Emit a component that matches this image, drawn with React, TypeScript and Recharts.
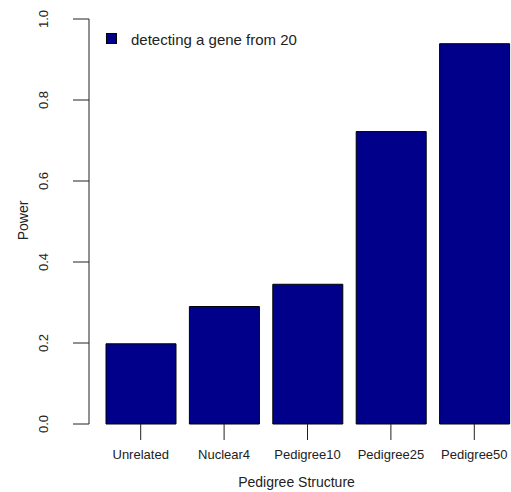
import React from 'react';
import { BarChart, Bar, XAxis, YAxis, Legend, Label } from 'recharts';

const categories = ['Unrelated', 'Nuclear4', 'Pedigree10', 'Pedigree25', 'Pedigree50'];
const power = [0.198, 0.29, 0.345, 0.722, 0.939];
const yTicks = [0, 0.2, 0.4, 0.6, 0.8, 1.0];
const seriesName = 'detecting a gene from 20';

const data = categories.map((c, i) => ({ name: c, power: power[i] }));

const FONT = '"Liberation Sans", Arial, sans-serif';
const FILL = '#00008B';
const INK = '#222';

const YTick = (props: any) => {
  const { x, y, payload } = props;
  return (
    <text
      x={x}
      y={y}
      transform={`rotate(-90, ${x}, ${y})`}
      textAnchor="middle"
      fontSize={13}
      fontFamily={FONT}
      fill={INK}
    >
      {Number(payload.value).toFixed(1)}
    </text>
  );
};

const LegendContent = () => (
  <div style={{ position: 'relative', width: 220, height: 20, fontFamily: FONT }}>
    <div
      style={{
        position: 'absolute',
        left: 0,
        top: 2,
        width: 11,
        height: 11,
        boxSizing: 'border-box',
        background: FILL,
        border: '1px solid #000',
      }}
    />
    <div
      style={{
        position: 'absolute',
        left: 25,
        top: 0,
        fontSize: 15,
        lineHeight: 'normal',
        color: INK,
        whiteSpace: 'nowrap',
      }}
    >
      {seriesName}
    </div>
  </div>
);

export default function App() {
  return (
    <div style={{ position: 'absolute', left: 0, top: 0, width: 511, height: 492, overflow: 'hidden', background: '#fff' }}>
      <BarChart
        width={516}
        height={492}
        data={data}
        margin={{ top: 19, right: 0, bottom: 0, left: 0 }}
        barSize={70}
      >
        <XAxis
          dataKey="name"
          axisLine={false}
          tickLine={{ stroke: INK }}
          tickSize={16}
          tickMargin={10}
          height={68}
          interval={0}
          padding={{ left: 10, right: 0 }}
          tick={{ fontSize: 13, fontFamily: FONT, fill: INK }}
        >
          <Label
            value="Pedigree Structure"
            position="insideBottom"
            offset={5}
            dx={-6}
            style={{ fontSize: 14, fontFamily: FONT, fill: INK }}
          />
        </XAxis>
        <YAxis
          type="number"
          domain={[0, 1]}
          ticks={yTicks}
          width={89}
          axisLine={{ stroke: INK }}
          tickLine={{ stroke: INK }}
          tickSize={16}
          tickMargin={25}
          tick={<YTick />}
          interval={0}
        >
          <Label
            content={(p: any) => {
              const vb = p.viewBox || {};
              const cy = vb.y + vb.height / 2 - 1;
              const cx = 28;
              return (
                <text
                  x={cx}
                  y={cy}
                  transform={`rotate(-90, ${cx}, ${cy})`}
                  textAnchor="middle"
                  fontSize={14}
                  fontFamily={FONT}
                  fill={INK}
                >
                  Power
                </text>
              );
            }}
          />
        </YAxis>
        <Legend
          layout="horizontal"
          verticalAlign="middle"
          align="center"
          content={<LegendContent />}
          wrapperStyle={{ left: 106, top: 31, width: 220 }}
        />
        <Bar
          dataKey="power"
          name={seriesName}
          fill={FILL}
          stroke="#000"
          strokeWidth={1}
          isAnimationActive={false}
        />
      </BarChart>
    </div>
  );
}
